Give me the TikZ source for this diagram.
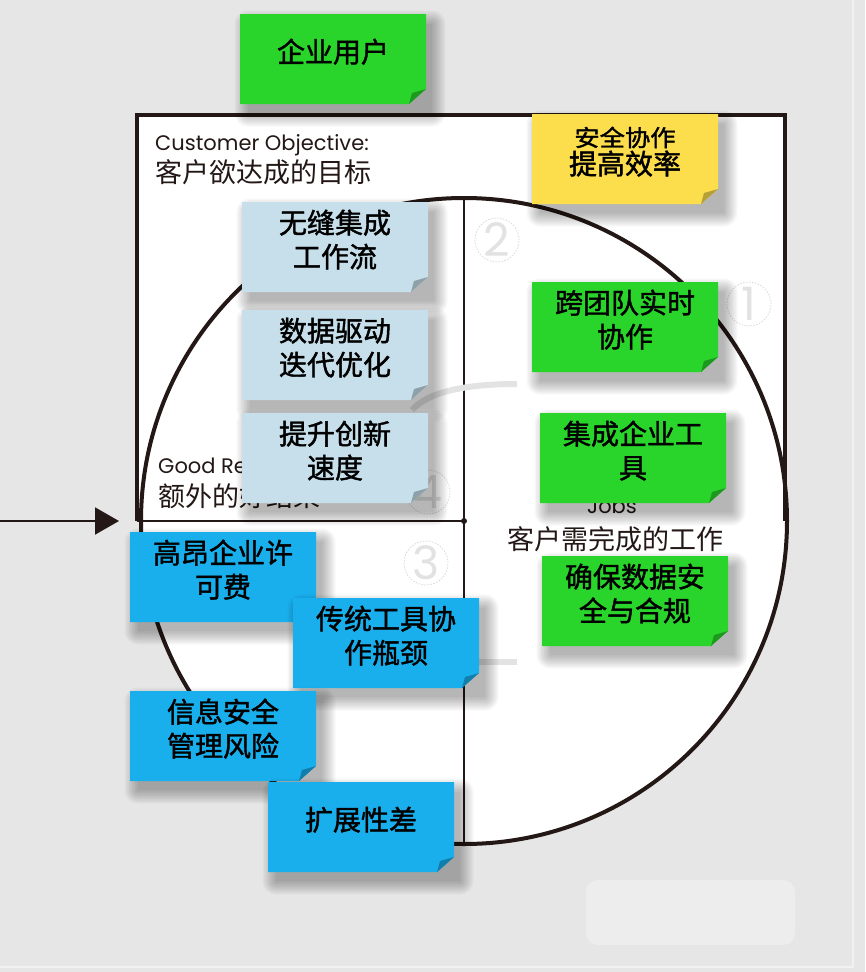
\documentclass[tikz,border=0pt]{standalone}
\usepackage{fontspec}
\newfontfamily\cjk{Noto Sans CJK SC}
\newfontfamily\cjkheavy[FakeBold=1.5]{Noto Sans CJK SC}
\newfontfamily\cjkwide[FakeBold=1.5,FakeStretch=1.1]{Noto Sans CJK SC}
\newfontfamily\geo{Poppins}
\usetikzlibrary{arrows.meta}

\definecolor{ink}{HTML}{231815}
\definecolor{paper}{HTML}{E6E6E6}
\definecolor{edgegray}{HTML}{F1F1F1}
\definecolor{faint}{HTML}{E3E3E3}
\definecolor{ringgray}{HTML}{DADADA}
\definecolor{digitgray}{HTML}{E2E2E2}
\definecolor{leafgreen}{HTML}{2AD52B}
\definecolor{skyblue}{HTML}{19AFED}
\definecolor{paleblue}{HTML}{C6DFEA}
\definecolor{lemon}{HTML}{FCDD4C}

\newcommand\goalfont{\cjkwide\fontsize{23}{34}\selectfont}

\tikzset{
    notetext/.style={inner sep=0pt, align=center, text depth=17pt,
        font=\cjkheavy\fontsize{28}{34}\selectfont},
    ring/.style={circle, draw=ringgray, dash pattern=on 1.5pt off 1.5pt,
        line width=.8pt, minimum size=44pt, inner sep=0pt, text=digitgray,
        font=\geo\fontsize{46}{46}\selectfont},
    tag/.style={inner sep=0pt, anchor=base west, text=ink},
    entag/.style={tag, font=\geo\fontsize{21}{21}\selectfont},
    cntag/.style={tag, font=\cjk\fontsize{27}{27}\selectfont},
}

\begin{document}
\begin{tikzpicture}[x=1pt,y=1pt]
    %% backdrop
    \fill[paper] (0,0) rectangle (865,-972);
    \useasboundingbox (0,0) rectangle (865,-972);
    \draw[edgegray, line width=1.5pt] (853,0) -- (853,-967) -- (0,-967);
    \fill[white, opacity=.3, rounded corners=12pt] (586,-880) rectangle (795,-945);

    %% canvas: square top, round bottom
    \fill[white] (137,-115) rectangle (785,-521);
    \fill[white] (464,-521) circle (323pt);
    \draw[ink, line width=4pt] (137,-521) -- (137,-115) -- (785,-115) -- (785,-521);
    \draw[ink, line width=4pt] (464,-521) circle (323pt);
    \draw[ink, line width=2pt] (464,-198) -- (464,-844);
    \draw[ink, line width=2pt] (137,-521) -- (464,-521);
    \fill[ink] (464,-521) circle (3pt);

    %% faint cycle arrows
    \draw[faint, line width=6pt] (517,-384) .. controls (465,-384) and (428,-392) .. (412,-410);
    \draw[faint, line width=6pt] (478,-662) -- (517,-662);

    %% quadrant numbers
    \foreach \num/\x/\y in {1/749/304, 2/497/240, 3/426/563, 4/428/492}
        \node[ring] (ring\num) at (\x,-\y) {\num};

    %% quadrant titles
    \node[entag] (objective) at (155,-150) {Customer Objective:};
    \node[cntag] (objectivecn) at (155,-182) {客户欲达成的目标};
    \node[entag] (results) at (158,-473) {Good Results:};
    \node[cntag] (resultscn) at (158,-506) {额外的好结果};
    \node[entag] (pains) at (155,-560) {Pains:};
    \node[cntag] (painscn) at (155,-594) {客户痛点问题};
    \node[entag, anchor=base] (jobs) at (612,-513) {Jobs};
    \node[cntag, anchor=base] (jobscn) at (615,-549) {客户需完成的工作};

    %% incoming arrow
    \coordinate (arrowtail) at (0,-521);
    \coordinate (arrowtip) at (119,-521);
    \draw[ink, line width=2pt, -{Triangle[length=24pt,width=27pt]}] (arrowtail) -- (arrowtip);

    %% sticky notes: soft shadow, body, folded corner, text
    \foreach \n/\cx/\cy/\col/\txt in {
            user/333/59/leafgreen/企业用户,
            goal/625/159/lemon/{\goalfont 安全协作\\[-6pt]提高效率},
            flow/335/247/paleblue/{无缝集成\\工作流},
            data/335/355/paleblue/{数据驱动\\迭代优化},
            speed/335/458/paleblue/{提升创新\\速度},
            team/625/327/leafgreen/{跨团队实时\\协作},
            tools/633/458/leafgreen/{集成企业工\\具},
            comply/635/601/leafgreen/{确保数据安\\全与合规},
            license/223/577/skyblue/{高昂企业许\\可费},
            bottleneck/386/643/skyblue/{传统工具协\\作瓶颈},
            risk/223/736/skyblue/{信息安全\\管理风险},
            scale/361/827/skyblue/扩展性差} {
        \foreach \e in {0,1.5,...,13.5}
            \fill[black, opacity=.03, rounded corners=\e pt]
                ({\cx-85-\e},{-\cy+35+\e}) rectangle ({\cx+99+\e},{-\cy-54-\e});
        \fill[\col] ({\cx-93},{-\cy+45}) -- ({\cx+93},{-\cy+45})
            -- ({\cx+93},{-\cy-30}) -- ({\cx+76},{-\cy-45}) -- ({\cx-93},{-\cy-45}) -- cycle;
        \fill[fill=\col!72!black] ({\cx+93},{-\cy-30}) -- ({\cx+76},{-\cy-45})
            -- ({\cx+79},{-\cy-34}) -- cycle;
        \node[notetext] (\n) at (\cx,-\cy) {\txt};
    }
\end{tikzpicture}
\end{document}
